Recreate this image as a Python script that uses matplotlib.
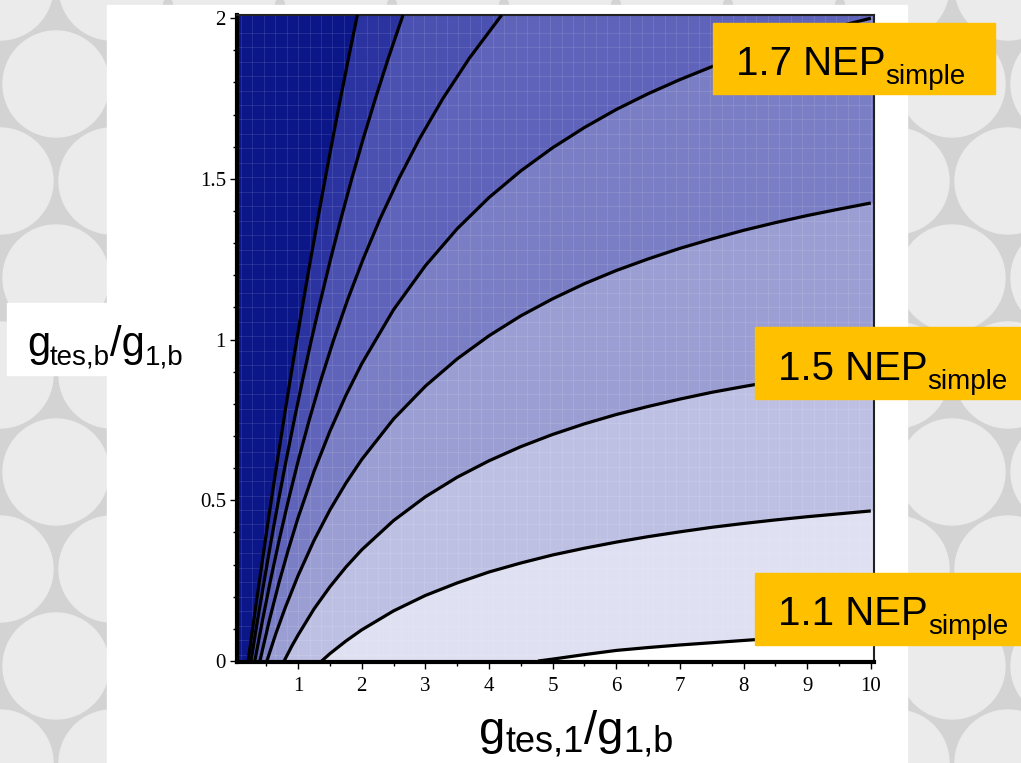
import numpy as np
import matplotlib.pyplot as plt
from matplotlib.patches import Rectangle, Ellipse
from matplotlib.transforms import IdentityTransform

# contour lines (x = g_tes,1/g_1,b, y = g_tes,b/g_1,b)
# steep ones near the left, given as x(y)
steep_y = [0, 0.125, 0.25, 0.375, 0.5, 0.625, 0.75, 0.875, 1.0,
           1.125, 1.25, 1.375, 1.5, 1.625, 1.75, 1.875, 2.01]
l1_x = [0.215, 0.303, 0.393, 0.485, 0.579, 0.676, 0.775, 0.876, 0.98,
        1.087, 1.197, 1.310, 1.425, 1.544, 1.666, 1.792, 1.931]
l2_x = [0.260, 0.361, 0.468, 0.577, 0.692, 0.813, 0.939, 1.072, 1.21,
        1.357, 1.510, 1.672, 1.843, 2.023, 2.215, 2.417, 2.649]
l3_x = [0.320, 0.439, 0.565, 0.701, 0.847, 1.004, 1.175, 1.359, 1.560,
        1.780, 2.021, 2.286, 2.581, 2.908, 3.275, 3.689, 4.20]
# flatter ones, given as y(x)
l4_x = [0.40, 0.55, 0.7, 0.85, 1.0, 1.25, 1.5, 1.75, 2.0, 2.5, 3.0, 3.5, 4.0,
        4.5, 5, 5.5, 6, 6.5, 7, 7.5, 8, 8.5, 9, 9.5, 10]
l4_y = [0, 0.128, 0.244, 0.349, 0.446, 0.590, 0.715, 0.826, 0.925, 1.093, 1.230, 1.345, 1.442,
        1.525, 1.597, 1.660, 1.716, 1.765, 1.809, 1.849, 1.885, 1.918, 1.948, 1.975, 2.0]
l5_x = [0.51, 0.65, 0.8, 1.0, 1.25, 1.5, 1.75, 2.0, 2.5, 3.0, 3.5, 4.0,
        4.5, 5, 5.5, 6, 6.5, 7, 7.5, 8, 8.5, 9, 9.5, 10]
l5_y = [0, 0.085, 0.167, 0.266, 0.375, 0.470, 0.553, 0.627, 0.753, 0.855, 0.940, 1.012,
        1.074, 1.127, 1.174, 1.215, 1.251, 1.284, 1.313, 1.340, 1.364, 1.386, 1.406, 1.425]
c3_x = [0.78, 0.9, 1.0, 1.25, 1.5, 1.75, 2.0, 2.5, 3.0, 3.5, 4.0,
        4.5, 5, 5.5, 6, 6.5, 7, 7.5, 8, 8.5, 9, 9.5, 10]
c3_y = [0, 0.046, 0.081, 0.162, 0.231, 0.292, 0.346, 0.437, 0.511, 0.572, 0.623,
        0.667, 0.705, 0.738, 0.767, 0.792, 0.815, 0.836, 0.854, 0.871, 0.886, 0.900, 0.913]
c2_x = [1.37, 1.5, 1.75, 2, 2.5, 3, 3.5, 4, 4.5, 5, 5.5, 6, 6.5, 7, 7.5, 8, 8.5, 9, 9.5, 10]
c2_y = [0, 0.023, 0.062, 0.097, 0.156, 0.204, 0.243, 0.277, 0.305, 0.330, 0.351, 0.370,
        0.387, 0.402, 0.416, 0.428, 0.439, 0.449, 0.458, 0.467]
c1_x = [4.77, 5, 5.5, 6, 6.5, 7, 7.5, 8, 8.5, 9, 9.5, 10]
c1_y = [0, 0.006, 0.02, 0.033, 0.042, 0.05, 0.057, 0.064, 0.071, 0.077, 0.083, 0.088]

band_colors = ['#0b1689', '#2a33a0', '#4b51b0', '#5f63b9', '#7a7ec5',
               '#9b9ed3', '#bec0e3', '#dfe0f1', '#ffffff']

tag_values = ['1.7', '1.5', '1.1']

W, H = 1021, 763
fig = plt.figure(figsize=(W / 100, H / 100), dpi=100)
fig.patch.set_facecolor('#d3d3d3')

# grey bubble backdrop
for j in range(-1, 10):
    for i in range(-1, 11):
        cx = i * 112 + (56 if j % 2 else 0)
        cy = j * 97
        fig.patches.append(Ellipse((cx / W, cy / H), 106 / W, 106 / H,
                                   transform=fig.transFigure, color='#ebebeb', zorder=0))
fig.patches.append(Rectangle((107 / W, 0), 800 / W, 758 / H, transform=fig.transFigure,
                             color='white', zorder=1))
fig.patches.append(Rectangle((7 / W, 1 - 375 / H), 100 / W, 72 / H, transform=fig.transFigure,
                             color='white', zorder=1))

ax = fig.add_axes([237 / W, 1 - 662 / H, 637 / W, 647 / H])
ax.set_zorder(2)
xmin, xmax, ymin, ymax = 0.04, 10.05, -0.003, 2.01
ax.set_xlim(xmin, xmax)
ax.set_ylim(ymin, ymax)

ax.add_patch(Rectangle((xmin, ymin), xmax - xmin, ymax - ymin, color=band_colors[0], zorder=1))

steep = [(l1_x, steep_y), (l2_x, steep_y), (l3_x, steep_y)]
flat = [(l4_x, l4_y), (l5_x, l5_y), (c3_x, c3_y), (c2_x, c2_y), (c1_x, c1_y)]
for k, (cx, cy) in enumerate(steep):
    ax.fill(list(cx) + [11, 11], list(cy) + [3, -1],
            color=band_colors[k + 1], lw=0, zorder=1 + k * 0.01)
for k, (cx, cy) in enumerate(flat):
    ax.fill(list(cx) + [11, 11], list(cy) + [cy[-1] if k else 3, -1],
            color=band_colors[k + 4], lw=0, zorder=1.1 + k * 0.01)

# faint rendering grid seen in the original
ax.vlines(np.arange(0.1, 10, 0.18), ymin, ymax, color='white', alpha=0.1, lw=0.8, zorder=1.5)
ax.hlines(np.arange(0.02, 2, 0.045), xmin, xmax, color='white', alpha=0.1, lw=0.8, zorder=1.5)

for cx, cy in steep + flat:
    ax.plot(cx, cy, color='black', lw=2.3, zorder=3, solid_capstyle='butt')

ax.set_xticks(range(1, 11))
ax.set_xticks(np.arange(0.5, 10.1, 0.5), minor=True)
ax.set_yticks([0, 0.5, 1, 1.5, 2])
ax.set_yticklabels(['0', '0.5', '1', '1.5', '2'])
ax.set_yticks(np.arange(0, 2.01, 0.1), minor=True)
ax.tick_params(direction='out', length=5, width=1, labelsize=15, pad=6)
ax.tick_params(axis='y', pad=3)
ax.tick_params(which='minor', direction='out', length=3, width=1)
for lab in ax.get_xticklabels() + ax.get_yticklabels():
    lab.set_fontfamily('Liberation Serif')
for s in ['left', 'bottom']:
    ax.spines[s].set_linewidth(3)
for s in ['top', 'right']:
    ax.spines[s].set_linewidth(1.5)
    ax.spines[s].set_color('#222222')

renderer = fig.canvas.get_renderer()


def rich(x, y, runs, z=8):
    # runs of (text, size in pt, baseline drop in px), placed left to right from pixel x
    for s, size, drop in runs:
        t = fig.text(x, H - y - drop, s, fontsize=size, family='Liberation Sans',
                     ha='left', va='baseline', transform=IdentityTransform(), zorder=z)
        x += t.get_window_extent(renderer).width


# axis titles
rich(479, 744, [('g', 34, 0), ('tes,1', 26, 8), ('/g', 34, 0), ('1,b', 26, 8)])
rich(27, 356, [('g', 30, 0), ('tes,b', 20, 8), ('/g', 30, 0), ('1,b', 20, 8)])

# yellow tags
boxes = [(713, 23, 282, 71), (755, 327, 266, 72), (755, 573, 266, 72)]
starts = [(736, 75), (778, 380), (778, 625)]
for (bx, by, bw, bh), (tx, ty), val in zip(boxes, starts, tag_values):
    fig.patches.append(Rectangle((bx / W, 1 - (by + bh) / H), bw / W, bh / H,
                                 transform=fig.transFigure, color='#ffc000', zorder=6))
    rich(tx, ty, [(val + ' NEP', 29, 0), ('simple', 20, 9)])

fig.savefig('out.png', dpi=100, facecolor=fig.get_facecolor())
